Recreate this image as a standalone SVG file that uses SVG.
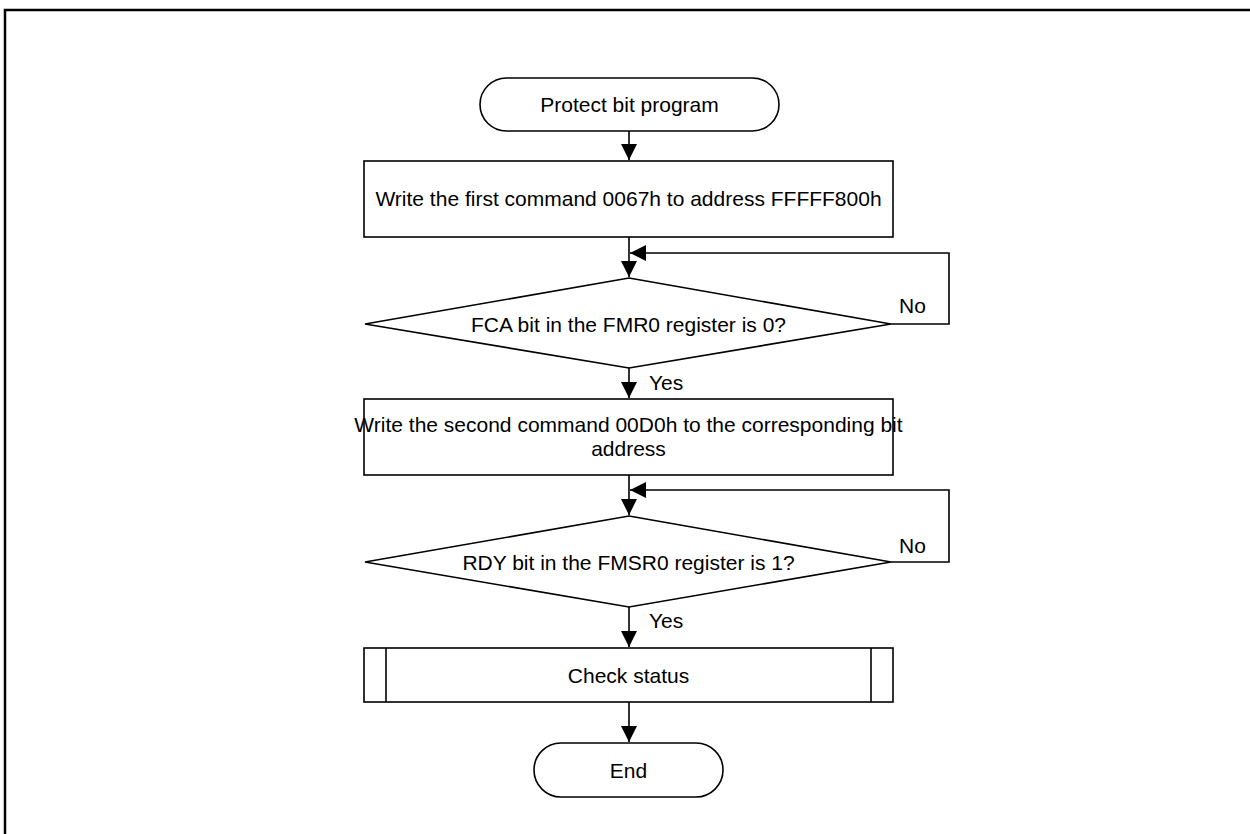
<svg xmlns="http://www.w3.org/2000/svg" width="1250" height="834" viewBox="0 0 1250 834">
<defs>
<style>
.s{fill:#fff;stroke:#000;stroke-width:1.6}
.t{font-family:"Liberation Sans",Arial,sans-serif;font-size:21px;fill:#000;text-anchor:middle}
.l{font-family:"Liberation Sans",Arial,sans-serif;font-size:21px;fill:#000}
.c{fill:none;stroke:#000;stroke-width:1.6}
</style>
<marker id="ah" markerUnits="userSpaceOnUse" viewBox="0 0 16 16" refX="16" refY="8" markerWidth="16" markerHeight="16" orient="auto">
<path d="M0,0 L16,8 L0,16 z" fill="#000"/>
</marker>
</defs>
<rect width="1250" height="834" fill="#fff"/>
<path d="M5,834 V10 H1250" fill="none" stroke="#000" stroke-width="2.5"/>
<g id="connectors">
<path class="c" d="M629,131 V160" marker-end="url(#ah)"/>
<path class="c" d="M629,237 V277" marker-end="url(#ah)"/>
<path class="c" d="M891,324 H949 V253 H630" marker-end="url(#ah)"/>
<path class="c" d="M629,368 V398" marker-end="url(#ah)"/>
<path class="c" d="M629,475 V515" marker-end="url(#ah)"/>
<path class="c" d="M891,562 H949 V490 H630" marker-end="url(#ah)"/>
<path class="c" d="M629,607 V647" marker-end="url(#ah)"/>
<path class="c" d="M629,702 V742" marker-end="url(#ah)"/>
<text class="l" x="899" y="313">No</text>
<text class="l" x="649" y="390">Yes</text>
<text class="l" x="899" y="553">No</text>
<text class="l" x="649" y="628">Yes</text>
</g>
<g id="start">
<rect class="s" x="480" y="78" width="299" height="53" rx="26.5" ry="26.5"/>
<text class="t" x="629.5" y="112">Protect bit program</text>
</g>
<g id="write1">
<rect class="s" x="364" y="161" width="529" height="76"/>
<text class="t" x="628.5" y="206">Write the first command 0067h to address FFFFF800h</text>
</g>
<g id="check1">
<polygon class="s" points="629,278 891,324 629,368 365,324"/>
<text class="t" x="628.5" y="331.5">FCA bit in the FMR0 register is 0?</text>
</g>
<g id="write2">
<rect class="s" x="364" y="399" width="529" height="76"/>
<text class="t" x="628.5" y="432">Write the second command 00D0h to the corresponding bit</text>
<text class="t" x="628.5" y="456">address</text>
</g>
<g id="check2">
<polygon class="s" points="629,516 891,562 629,607 365,562"/>
<text class="t" x="628.5" y="569.5">RDY bit in the FMSR0 register is 1?</text>
</g>
<g id="status">
<rect class="s" x="364" y="648" width="529" height="54"/>
<line class="c" x1="386" y1="648" x2="386" y2="702"/>
<line class="c" x1="871" y1="648" x2="871" y2="702"/>
<text class="t" x="628.5" y="682.5">Check status</text>
</g>
<g id="end">
<rect class="s" x="534" y="743" width="189" height="54" rx="27" ry="27"/>
<text class="t" x="628.5" y="777.5">End</text>
</g>
</svg>
